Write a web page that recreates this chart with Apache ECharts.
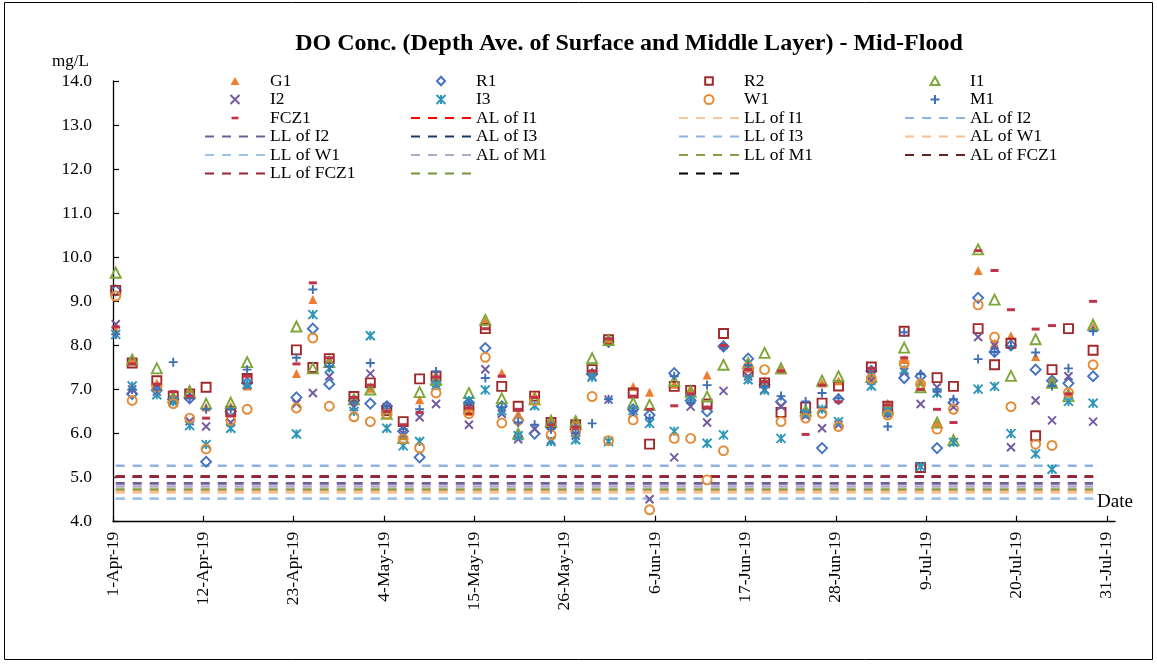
<!DOCTYPE html>
<html>
<head>
<meta charset="utf-8">
<script src="https://cdn.jsdelivr.net/npm/echarts@6/dist/echarts.min.js"></script>
<style>
  html, body { margin: 0; padding: 0; background: #fff; }
  #chart { width: 1157px; height: 664px; }
</style>
</head>
<body>
<div id="chart"></div>
<script>
// Sampling times (mid-flood) at the monitoring stations
const sampleDates = [
  '2019-04-01 08:00', '2019-04-03 08:00', '2019-04-06 08:00', '2019-04-08 08:00', '2019-04-10 08:00',
  '2019-04-12 08:00', '2019-04-15 08:00', '2019-04-17 08:00', '2019-04-23 08:00', '2019-04-25 08:00',
  '2019-04-27 08:00', '2019-04-30 08:00', '2019-05-02 08:00', '2019-05-04 08:00', '2019-05-06 08:00',
  '2019-05-08 08:00', '2019-05-10 08:00', '2019-05-14 08:00', '2019-05-16 08:00', '2019-05-18 08:00',
  '2019-05-20 08:00', '2019-05-22 08:00', '2019-05-24 08:00', '2019-05-27 08:00', '2019-05-29 08:00',
  '2019-05-31 08:00', '2019-06-03 08:00', '2019-06-05 08:00', '2019-06-08 08:00', '2019-06-10 08:00',
  '2019-06-12 08:00', '2019-06-14 08:00', '2019-06-17 08:00', '2019-06-19 08:00', '2019-06-21 08:00',
  '2019-06-24 08:00', '2019-06-26 08:00', '2019-06-28 08:00', '2019-07-02 08:00', '2019-07-04 08:00',
  '2019-07-06 08:00', '2019-07-08 08:00', '2019-07-10 08:00', '2019-07-12 08:00', '2019-07-15 08:00',
  '2019-07-17 08:00', '2019-07-19 08:00', '2019-07-22 08:00', '2019-07-24 08:00', '2019-07-26 08:00',
  '2019-07-29 08:00'
];

// DO concentration (mg/L), depth average of surface and middle layer
const G1 = [8.35, 7.65, 7.15, 6.85, 7.02, 6.6, 6.62, 7.08, 7.36, 9.04, 7.68, 6.8, 7.03, 6.55, 5.95, 6.77, 7.35, 6.5, 8.55, 7.38, 6.45, 6.88, 6.35, 6.31, 7.4, 8.1, 7.07, 6.94, 7.12, 7.02, 7.33, 8.0, 7.62, 7.2, 7.45, 6.55, 7.15, 7.2, 7.3, 6.69, 7.68, 7.18, 6.23, 5.9, 9.7, 8.05, 8.22, 7.75, 7.25, 6.95, 8.42];
const R1 = [9.25, 6.9, 6.98, 6.78, 6.8, 5.36, 6.5, 7.15, 6.82, 8.38, 7.12, 6.75, 6.68, 6.62, 6.05, 5.46, 7.12, 6.7, 7.94, 6.62, 6.3, 6.0, 6.15, 6.1, 7.35, 8.08, 6.55, 6.42, 7.37, 6.75, 6.5, 7.98, 7.7, 7.1, 6.72, 6.48, 5.67, 6.78, 7.42, 6.48, 7.26, 7.3, 5.67, 6.7, 9.08, 7.85, 8.0, 7.45, 7.2, 7.14, 7.3];
const R2 = [9.25, 7.6, 7.2, 6.85, 6.9, 7.05, 6.5, 7.25, 7.9, 7.5, 7.7, 6.84, 7.15, 6.52, 6.27, 7.24, 7.3, 6.55, 8.38, 7.07, 6.62, 6.85, 6.25, 6.2, 7.45, 8.13, 6.92, 5.76, 7.07, 6.98, 6.67, 8.27, 7.4, 7.15, 6.48, 6.6, 6.69, 7.08, 7.51, 6.62, 8.32, 5.23, 7.27, 7.07, 8.38, 7.56, 8.05, 5.95, 7.45, 8.38, 7.89];
const I1 = [9.65, 7.68, 7.48, 6.82, 6.95, 6.68, 6.7, 7.62, 8.43, 7.48, 7.62, 6.78, 7.0, 6.45, 5.9, 6.94, 7.22, 6.92, 8.58, 6.8, 6.0, 6.78, 6.28, 6.28, 7.71, 8.12, 6.7, 6.65, 7.2, 6.95, 6.84, 7.56, 7.6, 7.83, 7.48, 6.52, 7.2, 7.3, 7.28, 6.55, 7.95, 7.05, 6.25, 5.85, 10.18, 9.04, 7.31, 8.14, 7.15, 6.85, 8.47];
const I2 = [8.48, 7.0, 6.95, 6.75, 6.28, 6.16, 6.25, 7.1, 6.68, 6.92, 7.3, 6.6, 7.36, 6.6, 6.0, 6.37, 6.67, 6.2, 7.46, 6.45, 5.87, 6.1, 5.85, 5.95, 7.3, 6.77, 6.45, 4.51, 5.46, 6.61, 6.25, 6.97, 7.3, 7.0, 6.62, 6.4, 6.12, 6.2, 7.2, 6.45, 7.4, 6.67, 7.05, 6.6, 8.19, 8.0, 5.69, 6.75, 6.3, 7.3, 6.27];
const I3 = [8.25, 7.08, 6.88, 6.72, 6.18, 5.75, 6.12, 7.12, 5.99, 8.7, 7.48, 6.5, 8.22, 6.12, 5.72, 5.82, 7.1, 6.75, 6.99, 6.52, 5.95, 6.63, 5.82, 5.86, 7.28, 5.82, 6.52, 6.23, 6.05, 6.8, 5.78, 5.97, 7.22, 6.98, 5.89, 6.45, 6.55, 6.27, 7.08, 6.5, 7.45, 5.25, 6.92, 5.8, 7.01, 7.07, 6.0, 5.54, 5.19, 6.73, 6.69];
const W1 = [9.12, 6.75, 7.05, 6.68, 6.35, 5.65, 6.3, 6.55, 6.58, 8.17, 6.62, 6.38, 6.27, 6.45, 5.88, 5.67, 6.92, 6.45, 7.73, 6.24, 6.3, 6.75, 5.97, 6.05, 6.84, 5.84, 6.31, 4.27, 5.89, 5.89, 4.95, 5.61, 7.5, 7.45, 6.27, 6.35, 6.46, 6.16, 7.25, 6.42, 7.6, 7.12, 6.1, 6.55, 8.92, 8.19, 6.61, 5.76, 5.73, 6.93, 7.56];
const M1 = [8.25, 7.0, 7.0, 7.62, 6.8, 6.55, 6.55, 7.45, 7.72, 9.27, 7.52, 6.72, 7.6, 6.62, 6.1, 6.55, 7.41, 6.7, 7.26, 6.6, 6.25, 6.2, 6.1, 6.0, 6.23, 6.78, 6.5, 6.35, 7.3, 6.7, 7.1, 7.95, 7.55, 7.08, 6.85, 6.73, 6.92, 6.8, 7.45, 6.16, 8.3, 7.35, 6.95, 6.78, 7.69, 7.85, 7.98, 7.84, 7.08, 7.48, 8.32];
const FCZ1 = [8.42, 7.58, 7.12, 6.95, 6.85, 6.35, 6.4, 7.3, 7.58, 9.42, 7.72, 6.82, 7.1, 6.5, 6.2, 6.48, 7.28, 6.58, 8.38, 7.3, 6.55, 6.82, 6.2, 6.15, 7.42, 8.15, 6.85, 6.55, 6.63, 6.9, 6.6, 8.0, 7.45, 7.18, 7.42, 5.98, 7.1, 6.72, 7.48, 6.65, 7.72, 7.0, 6.55, 6.25, 10.15, 9.7, 8.81, 8.37, 8.45, 6.9, 9.0];

// Action / limit levels (mg/L)
const limitNames = ['AL of I1', 'LL of I1', 'AL of I2', 'LL of I2', 'AL of I3', 'LL of I3',
                    'AL of W1', 'LL of W1', 'AL of M1', 'LL of M1', 'AL of FCZ1', 'LL of FCZ1'];
const limitValues = [5.02, 4.67, 5.27, 4.87, 5.02, 4.52, 4.67, 4.52, 4.80, 4.73, 5.02, 5.02];

// Two further legend entries without a label
const blankNames = [' ', '  '];

// X-axis tick labels (every 11 days)
const tickDates = ['2019-04-01', '2019-04-12', '2019-04-23', '2019-05-04', '2019-05-15', '2019-05-26',
                   '2019-06-06', '2019-06-17', '2019-06-28', '2019-07-09', '2019-07-20', '2019-07-31'];

const FONT = "'Liberation Serif', 'Times New Roman', serif";
const MONTHS = ['Jan','Feb','Mar','Apr','May','Jun','Jul','Aug','Sep','Oct','Nov','Dec'];
const BASE = Date.UTC(2019, 3, 1);
const DAY = 86400000;

function toDay(s) {
  const [d, t] = s.split(' ');
  const [y, m, dd] = d.split('-').map(Number);
  const [hh, mm] = (t || '00:00').split(':').map(Number);
  return (Date.UTC(y, m - 1, dd, hh, mm) - BASE) / DAY;
}
function dayLabel(v) {
  const dt = new Date(BASE + Math.round(v) * DAY);
  return dt.getUTCDate() + '-' + MONTHS[dt.getUTCMonth()] + '-' + String(dt.getUTCFullYear()).slice(2);
}

const sampleDays = sampleDates.map(toDay);
const tickDays = tickDates.map(d => Math.round(toDay(d)));

// marker styles for each station
const stationStyle = {
  G1:   { symbol: 'triangle', size: 9,  fill: '#EE7D2F', stroke: null },
  R1:   { symbol: 'diamond',  size: 10, fill: 'transparent', stroke: '#4472C4' },
  R2:   { symbol: 'rect',     size: 9,  fill: 'transparent', stroke: '#9E2A2B' },
  I1:   { symbol: 'triangle', size: 10, fill: 'transparent', stroke: '#7FA63A' },
  I2:   { symbol: 'path://M0,0L10,10M10,0L0,10', size: 8, fill: 'none', stroke: '#7359A0' },
  I3:   { symbol: 'path://M0,0L10,10M10,0L0,10M5,0L5,10', size: 9, fill: 'none', stroke: '#2E97B8' },
  W1:   { symbol: 'circle',   size: 9,  fill: 'transparent', stroke: '#E48B36' },
  M1:   { symbol: 'path://M5,0L5,10M0,5L10,5', size: 9, fill: 'none', stroke: '#3E6FB5' },
  FCZ1: { symbol: 'rect',     size: [8, 3], fill: '#C0344A', stroke: null }
};
const stations = { G1, R1, R2, I1, I2, I3, W1, M1, FCZ1 };

// legend glyphs drawn small in the middle of a 60x9 legend slot
const SLOT = 'M0,0M60,9';
const legendGlyph = {
  G1:   'path://' + SLOT + 'M30,0.5L34.5,8.5L25.5,8.5Z',
  R1:   'path://' + SLOT + 'M30,0.3L34,4.5L30,8.7L26,4.5Z',
  R2:   'path://' + SLOT + 'M26.2,0.7H33.8V8.3H26.2Z',
  I1:   'path://' + SLOT + 'M30,0.5L34.5,8.5L25.5,8.5Z',
  FCZ1: 'path://' + SLOT + 'M26.5,3.2H33.5V5.8H26.5Z'
};

const limitColor = {
  'AL of I1': '#FF0000', 'LL of I1': '#F9C59A', 'AL of I2': '#8EB4E3', 'LL of I2': '#6E5F96',
  'AL of I3': '#1F3864', 'LL of I3': '#8EB4E3', 'AL of W1': '#FAC090', 'LL of W1': '#9DC3E6',
  'AL of M1': '#B3A9C9', 'LL of M1': '#8E9A45', 'AL of FCZ1': '#632523', 'LL of FCZ1': '#9B2335'
};
const blankColor = { ' ': '#77933C', '  ': '#000000' };

const series = [];
const firstDay = sampleDays[0], lastDay = sampleDays[sampleDays.length - 1];

limitNames.forEach((name, i) => {
  series.push({
    type: 'line', name, z: 1, silent: true, symbol: 'none', animation: false,
    data: [[firstDay, limitValues[i]], [lastDay, limitValues[i]]],
    lineStyle: { color: limitColor[name], width: 2.6, type: [9, 8] },
    itemStyle: { color: limitColor[name] }
  });
});
blankNames.forEach(name => {
  series.push({
    type: 'line', name, z: 1, silent: true, symbol: 'none', animation: false, data: [],
    lineStyle: { color: blankColor[name], width: 2.6, type: [9, 8] },
    itemStyle: { color: blankColor[name] }
  });
});

Object.keys(stations).forEach(name => {
  const st = stationStyle[name];
  const itemStyle = { color: st.fill, opacity: 1 };
  if (st.stroke) { itemStyle.borderColor = st.stroke; itemStyle.borderWidth = 1.9; }
  series.push({
    type: 'scatter', name, z: 3, silent: true, animation: false,
    symbol: st.symbol, symbolSize: st.size,
    data: stations[name].map((v, i) => [sampleDays[i], v]),
    itemStyle
  });
});

const legendCols = [
  ['G1', 'I2', 'FCZ1', 'LL of I2', 'LL of W1', 'LL of FCZ1'],
  ['R1', 'I3', 'AL of I1', 'AL of I3', 'AL of M1', ' '],
  ['R2', 'W1', 'LL of I1', 'LL of I3', 'LL of M1', '  '],
  ['I1', 'M1', 'AL of I2', 'AL of W1', 'AL of FCZ1']
];
const legendLeft = [199, 405, 673, 899];

function legendItem(name) {
  if (stations[name]) {
    return legendGlyph[name] ? { name, icon: legendGlyph[name] } : { name };
  }
  // dashed-line entries: hide the centre marker, keep the dashed line
  return { name, itemStyle: { opacity: 0 } };
}

const legend = legendCols.map((col, i) => ({
  orient: 'vertical', left: legendLeft[i], top: 67,
  data: col.map(legendItem), selectedMode: false,
  itemWidth: 60, itemHeight: 9, itemGap: 0.5,
  textStyle: { fontFamily: FONT, fontSize: 17.5, lineHeight: 16, color: '#000' }
}));

const chart = echarts.init(document.getElementById('chart'), null, { renderer: 'canvas' });
chart.setOption({
  backgroundColor: '#fff',
  animation: false,
  title: {
    text: 'DO Conc. (Depth Ave. of Surface and Middle Layer) - Mid-Flood',
    left: 624, top: 27, textAlign: 'center',
    textStyle: { fontFamily: FONT, fontSize: 24, fontWeight: 'bold', color: '#000' }
  },
  legend,
  grid: { left: 113, right: 42, top: 81, bottom: 142.3, containLabel: false },
  xAxis: {
    type: 'value', min: 0, max: 122, interval: 11,
    splitLine: { show: false },
    axisLine: { lineStyle: { color: '#000', width: 1.3 } },
    axisTick: { inside: true, length: 6, customValues: tickDays, lineStyle: { color: '#000', width: 1.2 } },
    axisLabel: {
      customValues: tickDays, rotate: 90, margin: 10,
      fontFamily: FONT, fontSize: 17.5, color: '#000',
      formatter: dayLabel
    }
  },
  yAxis: {
    type: 'value', min: 4, max: 14, interval: 1,
    splitLine: { show: false },
    axisLine: { show: true, lineStyle: { color: '#000', width: 1.3 } },
    axisTick: { show: true, inside: true, length: 6, lineStyle: { color: '#000', width: 1.2 } },
    axisLabel: { margin: 21, fontFamily: FONT, fontSize: 17.5, color: '#000', formatter: v => v.toFixed(1) }
  },
  graphic: [
    { type: 'rect', silent: true, z: -1, shape: { x: 4.5, y: 2.5, width: 1148, height: 657 },
      style: { fill: 'none', stroke: '#000', lineWidth: 1 } },
    { type: 'text', left: 52, top: 53, silent: true,
      style: { text: 'mg/L', fontFamily: FONT, fontSize: 17, fill: '#000' } },
    { type: 'text', left: 1097, top: 493, silent: true,
      style: { text: 'Date', fontFamily: FONT, fontSize: 19, fill: '#000' } }
  ],
  series
});
</script>
</body>
</html>
